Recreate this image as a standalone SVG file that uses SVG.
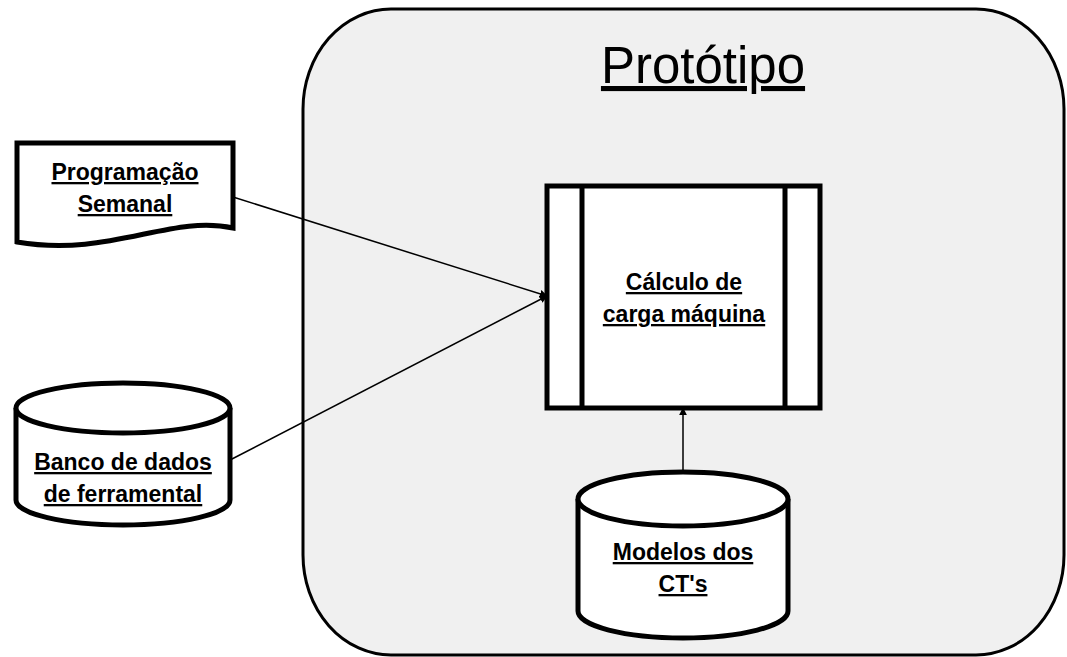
<svg xmlns="http://www.w3.org/2000/svg" width="1067" height="657" viewBox="0 0 1067 657">
  <style>
    .shape { fill: #ffffff; stroke: #000000; stroke-width: 5; }
    .label { font-family: "Liberation Sans", Arial, sans-serif; font-weight: bold; font-size: 23px; text-anchor: middle; text-decoration: underline; fill: #000000; }
    .title { font-family: "Liberation Sans", Arial, sans-serif; font-size: 51px; text-anchor: middle; text-decoration: underline; fill: #000000; }
    .conn { stroke: #000000; stroke-width: 1.5; fill: none; marker-end: url(#arrow); }
  </style>
  <defs>
    <marker id="arrow" viewBox="0 0 10 10" refX="9" refY="5" markerWidth="8" markerHeight="8" markerUnits="userSpaceOnUse" orient="auto">
      <path d="M0,0 L10,5 L0,10 Z" fill="#000000"/>
    </marker>
  </defs>

  <rect width="1067" height="657" fill="#ffffff"/>

  <!-- Prototype boundary -->
  <g id="prototipo">
    <rect x="303" y="9" width="761" height="646" rx="88" ry="100" fill="#f0f0f0" stroke="#000000" stroke-width="3"/>
    <text class="title" x="703" y="83">Protótipo</text>
  </g>

  <!-- Connectors -->
  <g id="connectors">
    <line class="conn" x1="233" y1="197" x2="547" y2="296"/>
    <line class="conn" x1="230" y1="460" x2="547" y2="296"/>
    <line class="conn" x1="683" y1="471" x2="683" y2="408"/>
  </g>

  <!-- Weekly schedule document -->
  <g id="programacao">
    <path class="shape" d="M17,143 H233 V228 C 170,214 110,258 17,242 Z"/>
    <text class="label" x="125" y="180">Programação</text>
    <text class="label" x="125" y="212">Semanal</text>
  </g>

  <!-- Tooling database -->
  <g id="banco">
    <path class="shape" d="M16,408 V500 A107,25 0 0 0 230,500 V408"/>
    <ellipse class="shape" cx="123" cy="408" rx="107" ry="25"/>
    <text class="label" x="123" y="470">Banco de dados</text>
    <text class="label" x="123" y="502">de ferramental</text>
  </g>

  <!-- Machine load calculation process -->
  <g id="calculo">
    <rect class="shape" x="547" y="186" width="273" height="222"/>
    <line x1="582" y1="186" x2="582" y2="408" stroke="#000000" stroke-width="5"/>
    <line x1="785" y1="186" x2="785" y2="408" stroke="#000000" stroke-width="5"/>
    <text class="label" x="684" y="290">Cálculo de</text>
    <text class="label" x="684" y="322">carga máquina</text>
  </g>

  <!-- Work center models -->
  <g id="modelos">
    <path class="shape" d="M578,499 V611 A105,27 0 0 0 788,611 V499"/>
    <ellipse class="shape" cx="683" cy="499" rx="105" ry="27"/>
    <text class="label" x="683" y="560">Modelos dos</text>
    <text class="label" x="683" y="592">CT's</text>
  </g>
</svg>
